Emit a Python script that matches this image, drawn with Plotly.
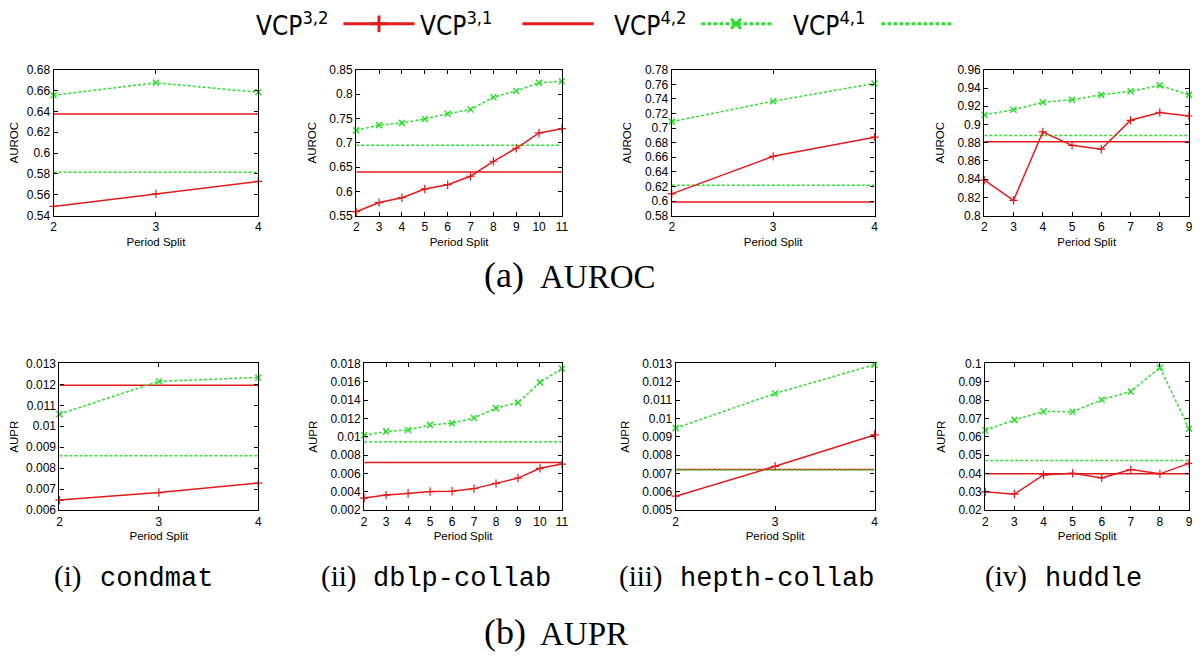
import plotly.graph_objects as go

# ---------------- data ----------------
splits_condmat = [2, 3, 4]
splits_dblp = [2, 3, 4, 5, 6, 7, 8, 9, 10, 11]
splits_hepth = [2, 3, 4]
splits_huddle = [2, 3, 4, 5, 6, 7, 8, 9]

# AUROC
auroc_condmat_vcp32 = [0.5488, 0.5609, 0.5728]
auroc_condmat_vcp31 = 0.6375
auroc_condmat_vcp42 = [0.6556, 0.6675, 0.6584]
auroc_condmat_vcp41 = 0.5816

auroc_dblp_vcp32 = [0.558, 0.5768, 0.5868, 0.6049, 0.6136, 0.631, 0.6618, 0.6886, 0.7201, 0.7288]
auroc_dblp_vcp31 = 0.6397
auroc_dblp_vcp42 = [0.7254, 0.7362, 0.7408, 0.7489, 0.7596, 0.7683, 0.7937, 0.8065, 0.8232, 0.8266]
auroc_dblp_vcp41 = 0.6946

auroc_hepth_vcp32 = [0.6098, 0.6613, 0.6876]
auroc_hepth_vcp31 = 0.5987
auroc_hepth_vcp42 = [0.7089, 0.7369, 0.7613]
auroc_hepth_vcp41 = 0.6218

auroc_huddle_vcp32 = [0.8389, 0.8168, 0.8918, 0.8771, 0.8729, 0.9046, 0.9132, 0.9093]
auroc_huddle_vcp31 = 0.8811
auroc_huddle_vcp42 = [0.9104, 0.9161, 0.9243, 0.9271, 0.9325, 0.9364, 0.9429, 0.9325]
auroc_huddle_vcp41 = 0.8879

# AUPR
aupr_condmat_vcp32 = [0.00648, 0.00684, 0.00729]
aupr_condmat_vcp31 = 0.011955
aupr_condmat_vcp42 = [0.01058, 0.01214, 0.01233]
aupr_condmat_vcp41 = 0.0086

aupr_dblp_vcp32 = [0.00332, 0.00364, 0.00382, 0.00403, 0.00406, 0.00435, 0.00492, 0.00549, 0.00656, 0.00702]
aupr_dblp_vcp31 = 0.0072
aupr_dblp_vcp42 = [0.01016, 0.01059, 0.01073, 0.0113, 0.01148, 0.01205, 0.01312, 0.01372, 0.01593, 0.01743]
aupr_dblp_vcp41 = 0.00945

aupr_hepth_vcp32 = [0.00576, 0.00739, 0.0091]
aupr_hepth_vcp31 = 0.00721
aupr_hepth_vcp42 = [0.00947, 0.01136, 0.01293]
aupr_hepth_vcp41 = 0.00719

aupr_huddle_vcp32 = [0.0300, 0.0287, 0.0392, 0.0401, 0.0376, 0.0421, 0.0398, 0.0455]
aupr_huddle_vcp31 = 0.0398
aupr_huddle_vcp42 = [0.0636, 0.0692, 0.0738, 0.0736, 0.0802, 0.0847, 0.0977, 0.0644]
aupr_huddle_vcp41 = 0.0471

# tick labels
yticks_auroc_condmat = ["0.54", "0.56", "0.58", "0.6", "0.62", "0.64", "0.66", "0.68"]
yticks_auroc_dblp = ["0.55", "0.6", "0.65", "0.7", "0.75", "0.8", "0.85"]
yticks_auroc_hepth = ["0.58", "0.6", "0.62", "0.64", "0.66", "0.68", "0.7", "0.72", "0.74", "0.76", "0.78"]
yticks_auroc_huddle = ["0.8", "0.82", "0.84", "0.86", "0.88", "0.9", "0.92", "0.94", "0.96"]
yticks_aupr_condmat = ["0.006", "0.007", "0.008", "0.009", "0.01", "0.011", "0.012", "0.013"]
yticks_aupr_dblp = ["0.002", "0.004", "0.006", "0.008", "0.01", "0.012", "0.014", "0.016", "0.018"]
yticks_aupr_hepth = ["0.005", "0.006", "0.007", "0.008", "0.009", "0.01", "0.011", "0.012", "0.013"]
yticks_aupr_huddle = ["0.02", "0.03", "0.04", "0.05", "0.06", "0.07", "0.08", "0.09", "0.1"]

legend_labels = ["VCP<sup>3,2</sup>", "VCP<sup>3,1</sup>", "VCP<sup>4,2</sup>", "VCP<sup>4,1</sup>"]
dataset_labels = [("(i)", "condmat"), ("(ii)", "dblp-collab"), ("(iii)", "hepth-collab"), ("(iv)", "huddle")]
row_captions = [("(a)", "AUROC"), ("(b)", "AUPR")]

# ---------------- styling / geometry ----------------
RED = "#e31a1c"
GREEN = "#2fdc2f"
W, H = 1200, 662          # page (screenshot) size
OFF = 8                   # default page body margin
FW, FH = W - OFF, H - OFF  # figure size so the figure fits the window exactly
SANS = "Liberation Sans, Arial, sans-serif"
NARROW = "Liberation Sans Narrow, Arial Narrow, DejaVu Sans Condensed, sans-serif"
SERIF = "Liberation Serif, Times New Roman, serif"
MONO = "Liberation Mono, Courier New, monospace"


def px(xp):
    return (xp - OFF) / FW


def py(yp):
    return 1 - (yp - OFF) / FH


# panel pixel boxes on the page (left, right, top, bottom)
panels = [
    dict(box=(48, 255, 64, 213), x=splits_condmat, v32=auroc_condmat_vcp32, v31=auroc_condmat_vcp31,
         v42=auroc_condmat_vcp42, v41=auroc_condmat_vcp41, ticks=yticks_auroc_condmat, ytitle="AUROC"),
    dict(box=(354, 562, 64, 213), x=splits_dblp, v32=auroc_dblp_vcp32, v31=auroc_dblp_vcp31,
         v42=auroc_dblp_vcp42, v41=auroc_dblp_vcp41, ticks=yticks_auroc_dblp, ytitle="AUROC"),
    dict(box=(673, 878, 64, 213), x=splits_hepth, v32=auroc_hepth_vcp32, v31=auroc_hepth_vcp31,
         v42=auroc_hepth_vcp42, v41=auroc_hepth_vcp41, ticks=yticks_auroc_hepth, ytitle="AUROC"),
    dict(box=(989, 1196, 64, 213), x=splits_huddle, v32=auroc_huddle_vcp32, v31=auroc_huddle_vcp31,
         v42=auroc_huddle_vcp42, v41=auroc_huddle_vcp41, ticks=yticks_auroc_huddle, ytitle="AUROC"),
    dict(box=(54, 255, 364, 514), x=splits_condmat, v32=aupr_condmat_vcp32, v31=aupr_condmat_vcp31,
         v42=aupr_condmat_vcp42, v41=aupr_condmat_vcp41, ticks=yticks_aupr_condmat, ytitle="AUPR"),
    dict(box=(362, 562, 364, 514), x=splits_dblp, v32=aupr_dblp_vcp32, v31=aupr_dblp_vcp31,
         v42=aupr_dblp_vcp42, v41=aupr_dblp_vcp41, ticks=yticks_aupr_dblp, ytitle="AUPR"),
    dict(box=(677, 878, 364, 514), x=splits_hepth, v32=aupr_hepth_vcp32, v31=aupr_hepth_vcp31,
         v42=aupr_hepth_vcp42, v41=aupr_hepth_vcp41, ticks=yticks_aupr_hepth, ytitle="AUPR"),
    dict(box=(990, 1196, 364, 514), x=splits_huddle, v32=aupr_huddle_vcp32, v31=aupr_huddle_vcp31,
         v42=aupr_huddle_vcp42, v41=aupr_huddle_vcp41, ticks=yticks_aupr_huddle, ytitle="AUPR"),
]

fig = go.Figure()
layout = dict(
    width=FW, height=FH, margin=dict(l=0, r=0, t=0, b=0, pad=0),
    paper_bgcolor="white", plot_bgcolor="white", showlegend=False,
    font=dict(family=SANS, size=12, color="black"),
)

for i, p in enumerate(panels, start=1):
    l, r, t, b = p["box"]
    xa = "xaxis" if i == 1 else f"xaxis{i}"
    ya = "yaxis" if i == 1 else f"yaxis{i}"
    xr = "x" if i == 1 else f"x{i}"
    yr = "y" if i == 1 else f"y{i}"
    xs = p["x"]
    n = len(xs)
    tickvals = [float(s) for s in p["ticks"]]
    fig.add_trace(go.Scatter(x=xs, y=[p["v31"]] * n, mode="lines", line=dict(color=RED, width=1.5),
                             xaxis=xr, yaxis=yr, hoverinfo="skip"))
    fig.add_trace(go.Scatter(x=xs, y=[p["v41"]] * n, mode="lines",
                             line=dict(color=GREEN, width=1.5, dash="3px,2px"),
                             xaxis=xr, yaxis=yr, hoverinfo="skip"))
    fig.add_trace(go.Scatter(x=xs, y=p["v32"], mode="lines+markers", line=dict(color=RED, width=1.5),
                             marker=dict(symbol="cross-thin", size=6, line=dict(color=RED, width=1.2)),
                             xaxis=xr, yaxis=yr, cliponaxis=False))
    fig.add_trace(go.Scatter(x=xs, y=p["v42"], mode="lines+markers",
                             line=dict(color=GREEN, width=1.5, dash="3px,2px"),
                             marker=dict(symbol="x-thin", size=6, line=dict(color=GREEN, width=1.5)),
                             xaxis=xr, yaxis=yr, cliponaxis=False))
    axis_common = dict(showgrid=False, zeroline=False, showline=True, linecolor="black", linewidth=1.2,
                       mirror="ticks", ticks="inside", ticklen=4, tickwidth=1, tickcolor="black",
                       tickfont=dict(family=SANS, size=12, color="black"))
    layout[xa] = dict(axis_common, domain=[px(l), px(r)], anchor=yr, range=[xs[0], xs[-1]],
                      tickmode="array", tickvals=xs, ticktext=[str(s) for s in xs],
                      title=dict(text="Period Split", font=dict(family=SANS, size=11.5), standoff=4))
    layout[ya] = dict(axis_common, domain=[py(b), py(t)], anchor=xr,
                      range=[tickvals[0], tickvals[-1]], tickmode="array", tickvals=tickvals,
                      ticktext=p["ticks"],
                      title=dict(text=p["ytitle"], font=dict(family=SANS, size=11.5), standoff=10))

# ---------------- custom legend (label before sample, gnuplot style) ----------------
li = len(panels) + 1
lx, ly = f"x{li}", f"y{li}"
legend_samples = [
    dict(seg=(341, 413), mark=377, color=RED, dash="solid", symbol="cross-thin", msize=12),
    dict(seg=(522, 594), mark=None, color=RED, dash="solid", symbol=None, msize=0),
    dict(seg=(703, 775), mark=738, color=GREEN, dash="4px,2px", symbol="x-thin", msize=10),
    dict(seg=(885, 957), mark=None, color=GREEN, dash="4px,2px", symbol=None, msize=0),
]
for s in legend_samples:
    fig.add_trace(go.Scatter(x=list(s["seg"]), y=[0.5, 0.5], mode="lines",
                             line=dict(color=s["color"], width=3, dash=s["dash"]),
                             xaxis=lx, yaxis=ly, hoverinfo="skip"))
    if s["mark"] is not None:
        fig.add_trace(go.Scatter(x=[s["mark"]], y=[0.5], mode="markers",
                                 marker=dict(symbol=s["symbol"], size=s["msize"],
                                             line=dict(color=s["color"], width=3)),
                                 xaxis=lx, yaxis=ly, hoverinfo="skip"))
layout[f"xaxis{li}"] = dict(domain=[0, 1], range=[OFF, W], visible=False, anchor=ly)
layout[f"yaxis{li}"] = dict(domain=[py(26), 1], range=[0, 1], visible=False, anchor=lx)

annotations = []
legend_text_right = [327, 493, 689, 870]
for lab, xr_ in zip(legend_labels, legend_text_right):
    annotations.append(dict(text=lab, x=px(xr_), y=py(17), xref="paper", yref="paper",
                            xanchor="right", yanchor="middle", showarrow=False,
                            font=dict(family=NARROW, size=26, color="black")))

# row captions
for (tag, name), (xl, xn, yc) in zip(row_captions, [(481, 538, 274), (481, 538, 639)]):
    annotations.append(dict(text=tag, x=px(xl), y=py(yc), xref="paper", yref="paper",
                            xanchor="left", yanchor="middle", showarrow=False,
                            font=dict(family=SERIF, size=36, color="black")))
    annotations.append(dict(text=name, x=px(xn), y=py(yc + 2), xref="paper", yref="paper",
                            xanchor="left", yanchor="middle", showarrow=False,
                            font=dict(family=SERIF, size=33, color="black")))

# dataset captions
for (tag, name), (xl, xn) in zip(dataset_labels, [(46, 93), (316, 369), (618, 679), (988, 1048)]):
    annotations.append(dict(text=tag, x=px(xl), y=py(582), xref="paper", yref="paper",
                            xanchor="left", yanchor="middle", showarrow=False,
                            font=dict(family=SERIF, size=29, color="black")))
    annotations.append(dict(text=name, x=px(xn), y=py(584), xref="paper", yref="paper",
                            xanchor="left", yanchor="middle", showarrow=False,
                            font=dict(family=MONO, size=27, color="black")))

layout["annotations"] = annotations
fig.update_layout(**layout)
fig.write_html("out.html")
